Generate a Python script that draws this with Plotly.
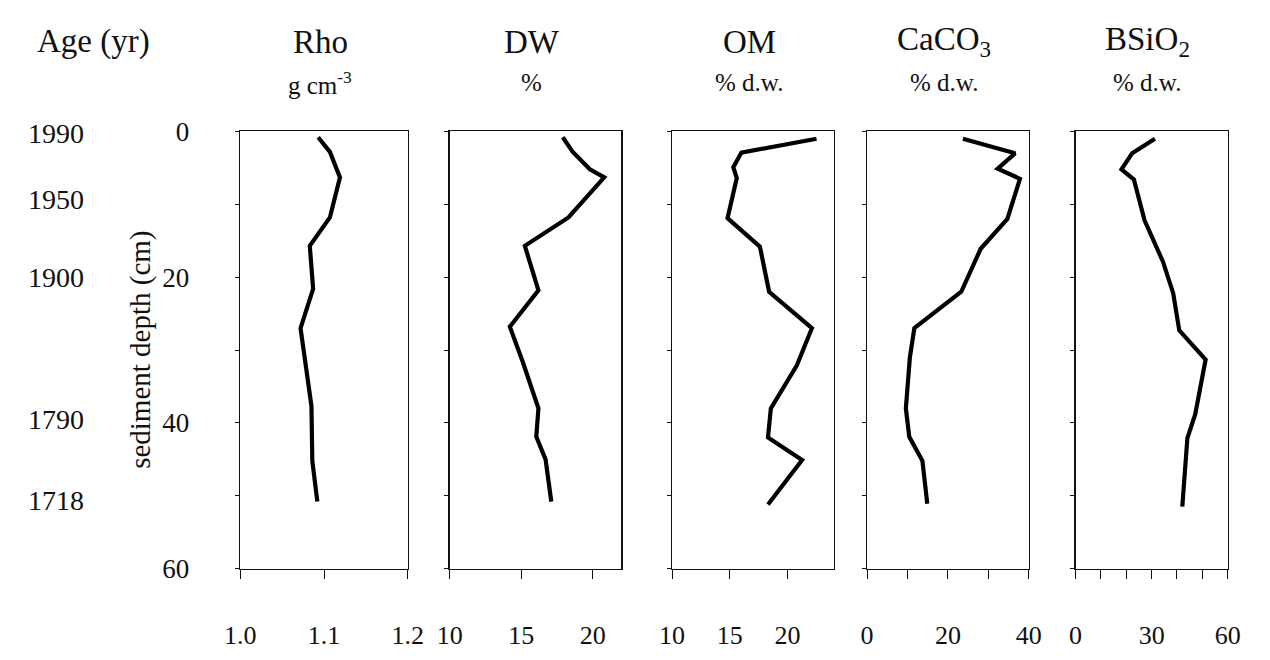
import plotly.graph_objects as go

W, H = 1270, 660

# ---- data ----
rho_depth = [0.8, 2.8, 6.3, 11.8, 15.7, 21.6, 27.0, 37.7, 45.2, 50.8]
rho = [1.093, 1.107, 1.119, 1.107, 1.083, 1.087, 1.072, 1.085, 1.086, 1.092]

dw_depth = [0.8, 2.8, 5.2, 6.3, 11.8, 15.7, 21.8, 26.8, 31.6, 38.0, 41.9, 45.0, 50.8]
dw = [17.9, 18.6, 19.8, 20.8, 18.3, 15.25, 16.2, 14.2, 15.1, 16.2, 16.05, 16.7, 17.1]

om_depth = [1.0, 2.9, 4.9, 6.4, 11.9, 15.8, 22.0, 27.0, 32.1, 38.0, 42.0, 45.1, 51.2]
om = [22.5, 16.0, 15.3, 15.6, 14.8, 17.6, 18.4, 22.1, 20.8, 18.55, 18.3, 21.25, 18.3]

caco3_depth = [1.0, 3.0, 5.1, 6.5, 12.0, 16.1, 22.0, 27.0, 31.0, 38.0, 41.9, 45.2, 51.1]
caco3 = [23.7, 36.6, 32.3, 37.8, 34.7, 28.1, 23.3, 11.7, 10.6, 9.6, 10.45, 13.7, 14.9]

bsio2_depth = [1.0, 3.0, 5.2, 6.6, 12.2, 17.9, 22.2, 27.3, 31.3, 38.8, 42.1, 51.5]
bsio2 = [31.3, 22.3, 18.1, 23.0, 27.2, 34.5, 38.5, 40.9, 51.3, 47.2, 44.1, 42.1]

titles = ["Rho", "DW", "OM", "CaCO<sub>3</sub>", "BSiO<sub>2</sub>"]
units = ["g cm<sup>-3</sup>", "%", "% d.w.", "% d.w.", "% d.w."]
x_ranges = [[1.0, 1.2], [10, 22], [10, 24], [0, 40], [0, 60]]
x_major = [[1.0, 1.1, 1.2], [10, 15, 20], [10, 15, 20], [0, 20, 40], [0, 30, 60]]
x_labels = [["1.0", "1.1", "1.2"], ["10", "15", "20"], ["10", "15", "20"],
            ["0", "20", "40"], ["0", "30", "60"]]
x_minor = [[], [], [], [10, 30], [10, 20, 40, 50]]

depth_major = [0, 20, 40, 60]
depth_labels = ["0", "20", "40", "60"]
depth_minor = [10, 30, 50]

age_labels = ["1990", "1950", "1900", "1790", "1718"]
age_depths = [0.3, 9.3, 20.0, 39.6, 50.6]

series = [(rho, rho_depth), (dw, dw_depth), (om, om_depth), (caco3, caco3_depth), (bsio2, bsio2_depth)]

# ---- layout geometry (pixels) ----
panel_px = [(230, 402), (445, 621), (673, 839), (873, 1039), (1087, 1243)]
top_px, bot_px = 122, 580

FONT = "Liberation Serif, Times New Roman, serif"
INK = "#111111"

fig = go.Figure()
layout = dict(
    width=W, height=H, autosize=False,
    margin=dict(l=0, r=0, t=0, b=0),
    paper_bgcolor="white", plot_bgcolor="white",
    showlegend=False,
    font=dict(family=FONT, color=INK),
)

ydom = [1 - bot_px / H, 1 - top_px / H]
annotations = []
for i, ((vals, dep), (l, r)) in enumerate(zip(series, panel_px)):
    n = i + 1
    xa = "x" if n == 1 else f"x{n}"
    ya = "y" if n == 1 else f"y{n}"
    fig.add_trace(go.Scatter(x=vals, y=dep, mode="lines", xaxis=xa, yaxis=ya,
                             line=dict(color="black", width=4.2), hoverinfo="skip"))
    xdict = dict(
        domain=[l / W, r / W], range=x_ranges[i], anchor=ya,
        showline=True, linecolor=INK, linewidth=1.5, mirror=True,
        showgrid=False, zeroline=False,
        ticks="outside", ticklen=9, tickwidth=1, tickcolor=INK,
        tickmode="array", tickvals=x_major[i], ticktext=x_labels[i],
        tickfont=dict(family=FONT, size=26, color=INK),
        ticklabelstandoff=34,
    )
    if x_minor[i]:
        xdict["minor"] = dict(tickmode="array", tickvals=x_minor[i], ticks="outside",
                              ticklen=9, tickwidth=1, tickcolor=INK, showgrid=False)
    layout["xaxis" if n == 1 else f"xaxis{n}"] = xdict
    ydict = dict(
        domain=ydom, range=[60, 0], anchor=xa,
        showline=True, linecolor=INK, linewidth=1.5, mirror=True,
        showgrid=False, zeroline=False,
        ticks="outside", ticklen=4, tickwidth=1, tickcolor=INK,
        tickmode="array", tickvals=depth_major, ticktext=depth_labels,
        minor=dict(tickmode="array", tickvals=depth_minor, ticks="outside",
                   ticklen=4, tickwidth=1, tickcolor=INK, showgrid=False),
        showticklabels=(n == 1),
        tickfont=dict(family=FONT, size=27, color=INK),
    )
    if n == 1:
        ydict["ticklabelstandoff"] = 40
    layout["yaxis" if n == 1 else f"yaxis{n}"] = ydict

    cx = (l + r) / 2 - 4
    annotations.append(dict(text=titles[i], x=cx / W, y=1 - 28 / H, xref="paper", yref="paper",
                            xanchor="center", yanchor="middle", showarrow=False,
                            font=dict(family=FONT, size=33, color=INK)))
    annotations.append(dict(text=units[i], x=cx / W, y=1 - 71 / H, xref="paper", yref="paper",
                            xanchor="center", yanchor="middle", showarrow=False,
                            font=dict(family=FONT, size=25, color=INK)))

annotations.append(dict(text="Age (yr)", x=80 / W, y=1 - 28 / H, xref="paper", yref="paper",
                        xanchor="center", yanchor="middle", showarrow=False,
                        font=dict(family=FONT, size=33, color=INK)))
for lab, d in zip(age_labels, age_depths):
    annotations.append(dict(text=lab, x=41 / W, y=d, xref="paper", yref="y",
                            xanchor="center", yanchor="middle", showarrow=False,
                            font=dict(family=FONT, size=28, color=INK)))
annotations.append(dict(text="sediment depth (cm)", x=127 / W, y=30, xref="paper", yref="y",
                        xanchor="center", yanchor="middle", showarrow=False, textangle=-90,
                        font=dict(family=FONT, size=29, color=INK)))

layout["annotations"] = annotations
fig.update_layout(**layout)
fig.write_html(
    "out.html",
    config={"displayModeBar": False, "staticPlot": True},
    post_script="document.body.style.margin='0px';document.body.style.padding='0px';"
                "document.body.style.overflow='hidden';",
)
